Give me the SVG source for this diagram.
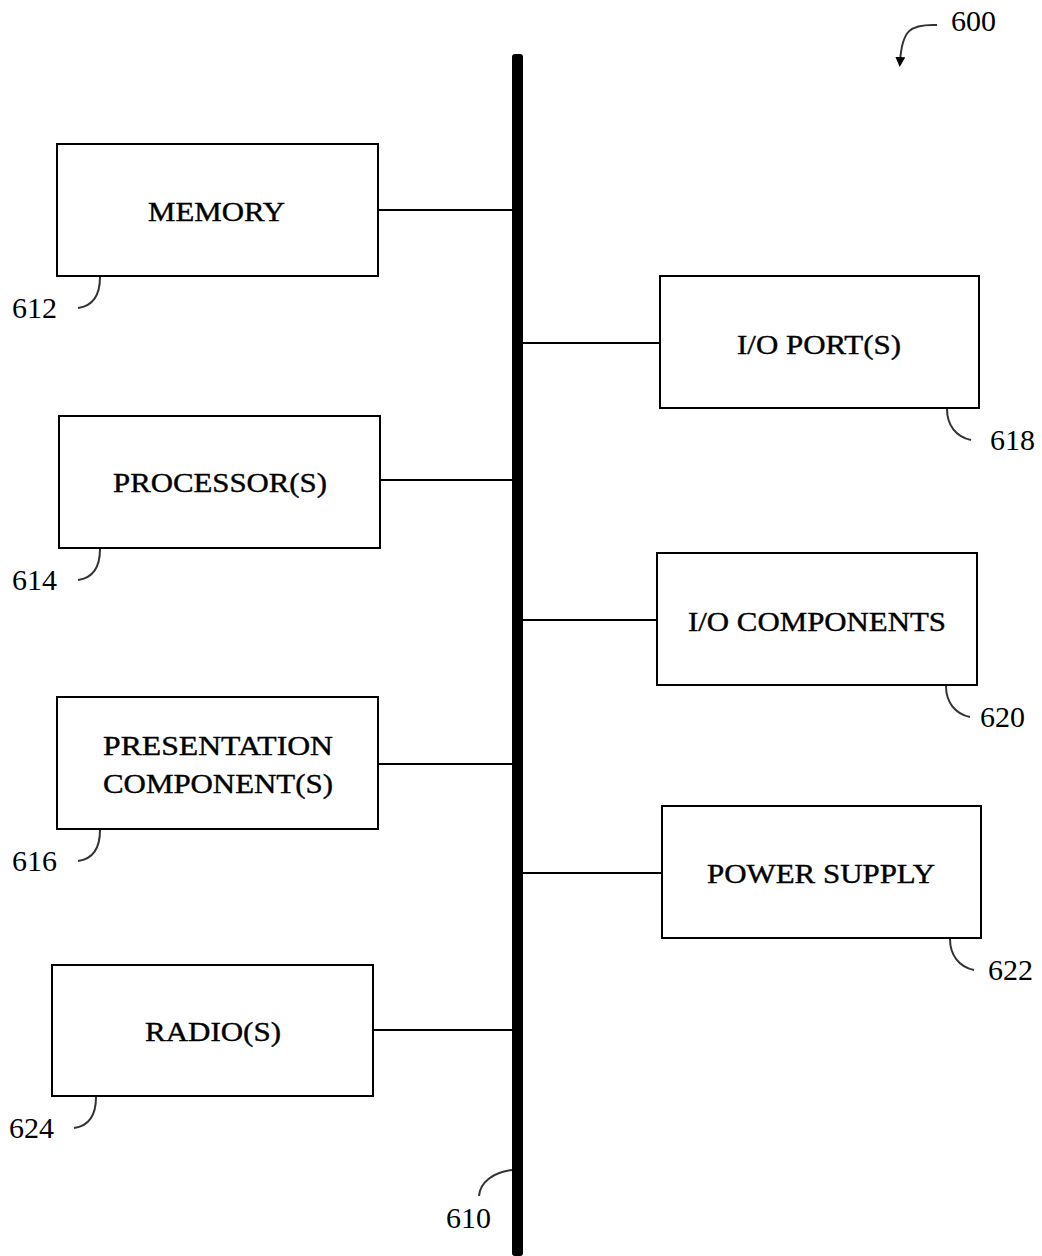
<svg xmlns="http://www.w3.org/2000/svg" width="1042" height="1256" viewBox="0 0 1042 1256">
<style>
.box{fill:#fff;stroke:#000;stroke-width:2}
.t{font-family:"Liberation Serif","Times New Roman",serif;font-size:28px;fill:#000;stroke:#000;stroke-width:0.4;text-anchor:middle}
.lbl{font-family:"Liberation Serif","Times New Roman",serif;font-size:30px;fill:#000}
.conn{stroke:#000;stroke-width:2;fill:none}
.lead{stroke:#333;stroke-width:2;fill:none}
</style>
<defs>
<marker id="ah" markerWidth="10" markerHeight="10" refX="5" refY="5" orient="auto" markerUnits="userSpaceOnUse">
<path d="M0,0 L10,5 L0,10 Z" fill="#000"/>
</marker>
</defs>
<rect width="1042" height="1256" fill="#fff"/>
<g id="connectors">
<rect id="bus" x="512" y="54" width="11" height="1202" rx="3" fill="#000"/>
<line x1="378" y1="210" x2="512" y2="210" class="conn"/>
<line x1="380" y1="480" x2="512" y2="480" class="conn"/>
<line x1="378" y1="764" x2="512" y2="764" class="conn"/>
<line x1="373" y1="1030" x2="512" y2="1030" class="conn"/>
<line x1="523" y1="343" x2="660" y2="343" class="conn"/>
<line x1="523" y1="620" x2="657" y2="620" class="conn"/>
<line x1="523" y1="873" x2="662" y2="873" class="conn"/>
</g>
<g id="memory">
<rect x="57" y="144" width="321" height="132" class="box"/>
<text x="216.5" y="221" class="t" textLength="137" lengthAdjust="spacingAndGlyphs">MEMORY</text>
<path d="M100,277 C100,295 93,306 78,308" class="lead"/>
<text x="12" y="318" class="lbl">612</text>
</g>
<g id="processor">
<rect x="59" y="416" width="321" height="132" class="box"/>
<text x="220" y="492" class="t" textLength="214" lengthAdjust="spacingAndGlyphs">PROCESSOR(S)</text>
<path d="M100,549 C100,567 93,578 78,580" class="lead"/>
<text x="12" y="590" class="lbl">614</text>
</g>
<g id="presentation">
<rect x="57" y="697" width="321" height="132" class="box"/>
<text x="218" y="755" class="t" textLength="230" lengthAdjust="spacingAndGlyphs">PRESENTATION</text>
<text x="218" y="793" class="t" textLength="230" lengthAdjust="spacingAndGlyphs">COMPONENT(S)</text>
<path d="M100,830 C100,848 93,859 78,861" class="lead"/>
<text x="12" y="871" class="lbl">616</text>
</g>
<g id="radio">
<rect x="52" y="965" width="321" height="131" class="box"/>
<text x="213" y="1041" class="t" textLength="136" lengthAdjust="spacingAndGlyphs">RADIO(S)</text>
<path d="M96,1097 C96,1115 89,1126 74,1128" class="lead"/>
<text x="9" y="1138" class="lbl">624</text>
</g>
<g id="ioports">
<rect x="660" y="276" width="319" height="132" class="box"/>
<text x="819" y="354" class="t" textLength="164" lengthAdjust="spacingAndGlyphs">I/O PORT(S)</text>
<path d="M947,409 C947,425 956,437 971,440" class="lead"/>
<text x="990" y="450" class="lbl">618</text>
</g>
<g id="iocomponents">
<rect x="657" y="553" width="320" height="132" class="box"/>
<text x="817" y="631" class="t" textLength="258" lengthAdjust="spacingAndGlyphs">I/O COMPONENTS</text>
<path d="M946,686 C946,702 955,714 970,717" class="lead"/>
<text x="980" y="727" class="lbl">620</text>
</g>
<g id="powersupply">
<rect x="662" y="806" width="319" height="132" class="box"/>
<text x="821" y="883" class="t" textLength="228" lengthAdjust="spacingAndGlyphs">POWER SUPPLY</text>
<path d="M950,939 C950,955 959,967 974,970" class="lead"/>
<text x="988" y="980" class="lbl">622</text>
</g>
<g id="label610">
<path d="M512,1170 C494,1172 480,1182 479,1196" class="lead"/>
<text x="446" y="1228" class="lbl">610</text>
</g>
<g id="label600">
<path d="M937,25 C910,24 902,30 900,62" class="lead" marker-end="url(#ah)"/>
<text x="951" y="31" class="lbl">600</text>
</g>
</svg>
